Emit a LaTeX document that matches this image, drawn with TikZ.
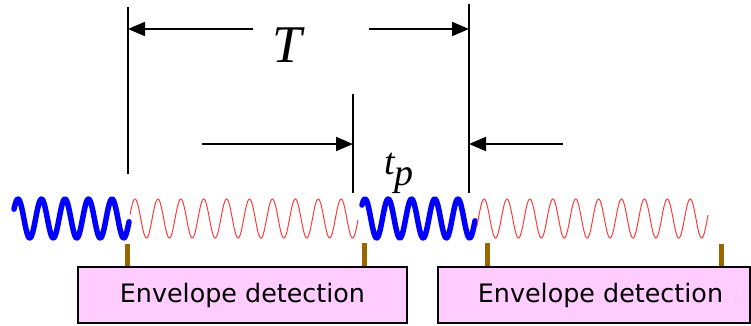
\documentclass[tikz,border=0pt]{standalone}
\usepackage{fontspec}
\setmainfont{DejaVu Sans}
\newfontfamily\timesfont{Liberation Serif}
\usetikzlibrary{arrows.meta}
\definecolor{boxpink}{HTML}{FFCCFF}
\definecolor{tapbrown}{HTML}{996600}
\definecolor{carrierred}{HTML}{FF3B3B}
\begin{document}
\begin{tikzpicture}[x=1pt,y=-1pt,
  dimline/.style={line width=2pt},
  dimarrow/.style={line width=2pt,-{Triangle[length=17pt,width=14pt]}},
  carrier/.style={carrierred, line width=1pt},
  pulse/.style={blue, line width=5.5pt, line join=round, line cap=round},
  tap/.style={tapbrown, line width=5pt},
  detbox/.style={draw=black, line width=1.5pt, fill=boxpink, minimum height=56pt, inner sep=0pt},
  boxtext/.style={font=\fontsize{25.4}{28}\selectfont}
]
\useasboundingbox (0,0) rectangle (751,325);

% waves
\draw[pulse] plot[domain=14:129, samples=150, smooth] (\x, {218.5-19.5*cos(15.3191*(\x-18))});
\draw[carrier] plot[domain=130:358, samples=300, smooth] (\x, {218.5-19.5*cos(15.7205*(\x-135))});
\draw[pulse] plot[domain=362:475, samples=150, smooth] (\x, {218.5-19.5*cos(15.4839*(\x-365))});
\draw[carrier] plot[domain=477:708, samples=300, smooth] (\x, {218.5-19.5*cos(15.7205*(\x-507))});

% dimension lines
\coordinate (Lt) at (128,7);
\coordinate (Lb) at (128,174);
\coordinate (Mt) at (353,94);
\coordinate (Mb) at (353,193);
\coordinate (Rt) at (469,4);
\coordinate (Rb) at (469,193);
\draw[dimline] (Lt) -- (Lb);
\draw[dimline] (Mt) -- (Mb);
\draw[dimline] (Rt) -- (Rb);

\coordinate (Ta) at (253,29);
\coordinate (Tb) at (369,29);
\draw[dimarrow] (Ta) -- (Ta -| Lt);
\draw[dimarrow] (Tb) -- (Tb -| Rt);
\node[font=\timesfont\itshape\fontsize{53}{53}\selectfont, anchor=base, inner sep=0pt] (Tlab) at (287,62) {T};

\coordinate (pa) at (202,144);
\coordinate (pb) at (563,144);
\draw[dimarrow] (pa) -- (pa -| Mt);
\draw[dimarrow] (pb) -- (pb -| Rt);
\node[font=\timesfont\itshape\fontsize{38}{38}\selectfont, anchor=base west, inner sep=0pt] (tplab) at (384,174) {t\raisebox{-11pt}{p}};

% detection boxes
\node[detbox, minimum width=329pt, boxtext] (box1) at (242.5,295) {Envelope detection};
\node[detbox, minimum width=312pt] (box2) at (594,295) {};
\node[boxtext, inner sep=0pt] (box2text) at (600.5,295) {Envelope detection};

% taps
\coordinate (s1) at (127.5,244);
\coordinate (s2) at (364,243);
\coordinate (s3) at (487,243);
\coordinate (s4) at (721,244);
\draw[tap] (s1) -- (s1 |- box1.north);
\draw[tap] (s2) -- (s2 |- box1.north);
\draw[tap] (s3) -- (s3 |- box2.north);
\draw[tap] (s4) -- (s4 |- box2.north);
\end{tikzpicture}
\end{document}
